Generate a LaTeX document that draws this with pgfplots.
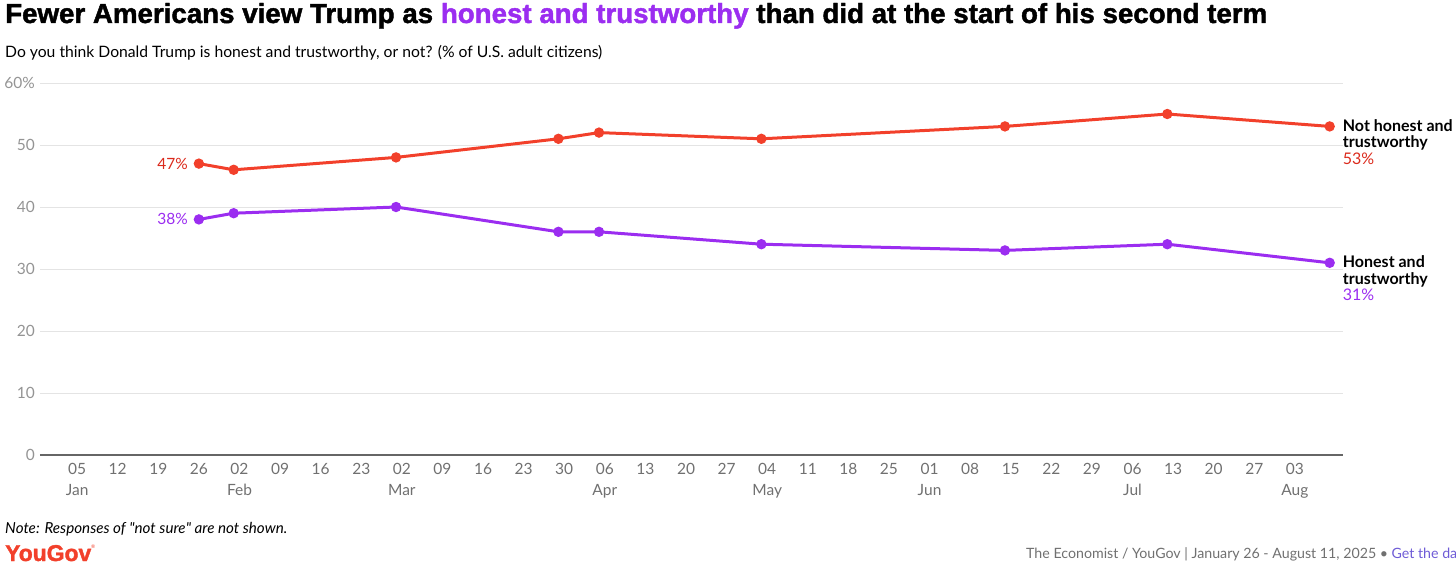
\documentclass[border=0pt]{standalone}
\usepackage{fontspec}
\setmainfont{Lato}
\newfontfamily\titlefont{Liberation Sans}[BoldFeatures={FakeBold=1.6}]
\usepackage{graphicx}
\usepackage{pgfplots}
\pgfplotsset{compat=1.18}
\definecolor{redL}{HTML}{F2402B}
\definecolor{redT}{HTML}{DB2A1C}
\definecolor{purL}{HTML}{9B2DF0}
\definecolor{tickgray}{HTML}{707070}
\definecolor{gridgray}{HTML}{E4E4E4}
\definecolor{axisgray}{HTML}{666666}
\definecolor{linkpur}{HTML}{6E5BD6}
\begin{document}
\begin{tikzpicture}
\path[use as bounding box] (0,0) rectangle (1456bp,-565bp);
% title and subtitle
\node[anchor=base west, inner sep=0pt] at (5bp,-23bp) {\resizebox{1262bp}{20bp}{\titlefont\bfseries Fewer Americans view Trump as \textcolor{purL}{honest and trustworthy} than did at the start of his second term}};
\node[anchor=base west, inner sep=0pt] at (5bp,-57bp) {\resizebox{597bp}{!}{\fontsize{15bp}{18bp}\selectfont Do you think Donald Trump is honest and trustworthy, or not? (\% of U.S. adult citizens)}};
\begin{axis}[
  at={(40bp,-455bp)}, anchor=south west, scale only axis,
  width=1303bp, height=372bp,
  xmin=-6.4, xmax=218.3, ymin=0, ymax=60,
  clip=false,
  axis x line=bottom, axis y line=left,
  x axis line style={-, draw=axisgray, line width=2bp},
  y axis line style={draw=none},
  major tick length=0pt,
  xtick={0,7,...,210},
  xticklabels={{05\\Jan},12,19,26,{02\\Feb},09,16,23,{02\\Mar},09,16,23,30,{06\\Apr},13,20,27,{04\\May},11,18,25,{01\\Jun},08,15,22,29,{06\\Jul},13,20,27,{03\\Aug}},
  xticklabel style={align=center, text=tickgray, inner sep=0pt, yshift=-8bp, font=\fontsize{15.5bp}{21bp}\selectfont},
  ytick={0,10,20,30,40,50,60},
  yticklabels={0,10,20,30,40,50,60\%},
  yticklabel style={text=tickgray!75, inner sep=0pt, xshift=-5bp, font=\fontsize{15.5bp}{18bp}\selectfont},
  ymajorgrids, grid style={draw=gridgray, line width=1bp},
]
\addplot[redL, line width=3bp, mark=*, mark size=3.6bp] coordinates {(21,47)(27,46)(55,48)(83,51)(90,52)(118,51)(160,53)(188,55)(216,53)};
\addplot[purL, line width=3bp, mark=*, mark size=3.6bp] coordinates {(21,38)(27,39)(55,40)(83,36)(90,36)(118,34)(160,33)(188,34)(216,31)};
\node[anchor=east, inner sep=0pt, xshift=-11bp, text=redT, font=\fontsize{15.5bp}{18bp}\selectfont] at (axis cs:21,47) {47\%};
\node[anchor=east, inner sep=0pt, xshift=-11bp, text=purL, font=\fontsize{15.5bp}{18bp}\selectfont] at (axis cs:21,38) {38\%};
\node[anchor=north west, align=left, inner sep=0pt, xshift=13bp, yshift=7bp, font=\fontsize{16bp}{16.5bp}\selectfont] at (axis cs:216,53) {\textbf{Not honest and}\\\textbf{trustworthy}\\\textcolor{redT}{53\%}};
\node[anchor=north west, align=left, inner sep=0pt, xshift=13bp, yshift=7bp, font=\fontsize{16bp}{16.5bp}\selectfont] at (axis cs:216,31) {\textbf{Honest and}\\\textbf{trustworthy}\\\textcolor{purL}{31\%}};
\end{axis}
% footer
\node[anchor=base west, inner sep=0pt] at (5bp,-533bp) {\resizebox{282bp}{!}{\fontsize{14bp}{16bp}\selectfont\itshape Note: Responses of \textquotedbl not sure\textquotedbl{} are not shown.}};
\node[anchor=base west, inner sep=0pt, text=redL] at (5bp,-561bp) {\resizebox{86bp}{!}{\titlefont\bfseries YouGov}\raisebox{13bp}{\fontsize{5bp}{5bp}\selectfont\textregistered}};
\node[anchor=base west, inner sep=0pt, text=tickgray] at (1026bp,-558bp) {\fontsize{14.2bp}{17bp}\selectfont The Economist / YouGov | January 26 - August 11, 2025 \textbullet{} \textcolor{linkpur}{Get the data}};
\end{tikzpicture}
\end{document}
